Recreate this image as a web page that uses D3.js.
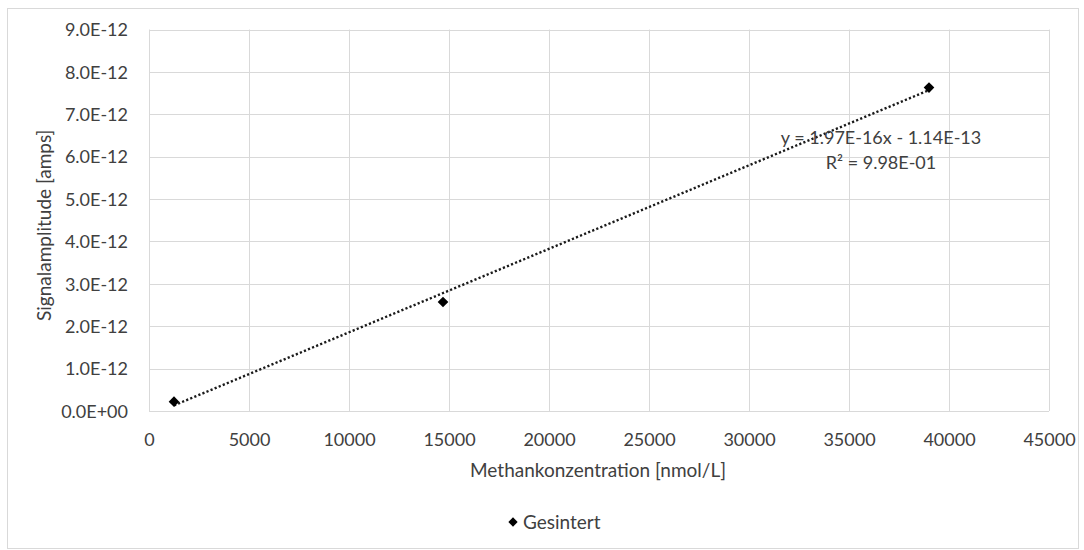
<!DOCTYPE html>
<html>
<head>
<meta charset="utf-8">
<script src="https://cdn.jsdelivr.net/npm/d3@7"></script>
<style>
  html, body { margin: 0; padding: 0; background: #fff; }
  svg text { font-family: Lato, "Open Sans", sans-serif; }
</style>
</head>
<body>
<svg id="chart" width="1084" height="550"></svg>
<script>
// Measured concentrations and signal amplitudes
const concentrations = [1250, 14700, 39000];      // nmol/L
const amplitudes = [0.22e-12, 2.57e-12, 7.63e-12]; // A
const seriesName = "Gesintert";

// Linear trend line as reported
const trendSlope = 1.97e-16;
const trendIntercept = -1.14e-13;
const trendLabel = "y = 1.97E-16x - 1.14E-13";
const r2Label = "R² = 9.98E-01";

const xTicks = [0, 5000, 10000, 15000, 20000, 25000, 30000, 35000, 40000, 45000];
const yTicks = [0, 1e-12, 2e-12, 3e-12, 4e-12, 5e-12, 6e-12, 7e-12, 8e-12, 9e-12];
const yTickLabels = ["0.0E+00", "1.0E-12", "2.0E-12", "3.0E-12", "4.0E-12",
                     "5.0E-12", "6.0E-12", "7.0E-12", "8.0E-12", "9.0E-12"];

const plot = { left: 149, right: 1049, top: 29.5, bottom: 411 };
const textColor = "#404040";

const svg = d3.select("#chart");

// outer chart border
svg.append("rect")
  .attr("x", 7.5).attr("y", 8.5)
  .attr("width", 1071).attr("height", 540)
  .attr("fill", "#fff").attr("stroke", "#d9d9d9").attr("stroke-width", 1);

const x = d3.scaleLinear().domain([0, 45000]).range([plot.left, plot.right]);
const y = d3.scaleLinear().domain([0, 9e-12]).range([plot.bottom, plot.top]);

// gridlines
const grid = svg.append("g");
grid.selectAll("line.v").data(xTicks).join("line")
  .attr("x1", d => Math.round(x(d)) + 0.5).attr("x2", d => Math.round(x(d)) + 0.5)
  .attr("y1", plot.top).attr("y2", plot.bottom)
  .attr("stroke", "#d9d9d9").attr("stroke-width", 1);
grid.selectAll("line.h").data(yTicks).join("line")
  .attr("x1", plot.left).attr("x2", plot.right)
  .attr("y1", d => Math.round(y(d)) + 0.5).attr("y2", d => Math.round(y(d)) + 0.5)
  .attr("stroke", "#d9d9d9").attr("stroke-width", 1);

// axes (labels only; grid supplies the lines)
const xAxis = d3.axisBottom(x).tickValues(xTicks).tickSize(0).tickPadding(0)
  .tickFormat(d3.format("d"));
const gx = svg.append("g").attr("transform", `translate(0,${plot.bottom})`).call(xAxis);
gx.select(".domain").remove();
gx.selectAll("text")
  .attr("dy", null).attr("y", 35)
  .attr("font-size", 18).attr("fill", textColor)
  .style("font-family", "Lato, sans-serif");

const yAxis = d3.axisLeft(y).tickValues(yTicks).tickSize(0).tickPadding(0)
  .tickFormat((d, i) => yTickLabels[i]);
const gy = svg.append("g").attr("transform", `translate(${plot.left},0)`).call(yAxis);
gy.select(".domain").remove();
gy.selectAll("text")
  .attr("x", -21).attr("dy", "0.35em")
  .attr("font-size", 18).attr("fill", textColor)
  .style("font-family", "Lato, sans-serif");

// axis titles
svg.append("text")
  .attr("x", (plot.left + plot.right) / 2 - 1).attr("y", 477)
  .attr("text-anchor", "middle").attr("font-size", 19).attr("fill", textColor)
  .text("Methankonzentration [nmol/L]");
svg.append("text")
  .attr("transform", `translate(51,${(plot.top + plot.bottom) / 2 + 5}) rotate(-90)`)
  .attr("text-anchor", "middle").attr("font-size", 19).attr("fill", textColor)
  .text("Signalamplitude [amps]");

// trend line across the data range
const xMin = d3.min(concentrations), xMax = d3.max(concentrations);
const trend = [xMin, xMax].map(v => [v, trendSlope * v + trendIntercept]);
svg.append("path")
  .datum(trend)
  .attr("d", d3.line().x(d => x(d[0])).y(d => y(d[1])))
  .attr("fill", "none").attr("stroke", "#1a1a1a").attr("stroke-width", 2.4)
  .attr("stroke-dasharray", "2.2,2.2");

// data markers
const diamond = d3.symbol().type(d3.symbolDiamond2).size(72);
svg.append("g").selectAll("path")
  .data(concentrations.map((c, i) => [c, amplitudes[i]]))
  .join("path")
  .attr("transform", d => `translate(${x(d[0])},${y(d[1])})`)
  .attr("d", diamond)
  .attr("fill", "#000");

// trend equation
svg.append("text")
  .attr("x", 881).attr("y", 144)
  .attr("text-anchor", "middle").attr("font-size", 18).attr("fill", textColor)
  .text(trendLabel);
svg.append("text")
  .attr("x", 881).attr("y", 169)
  .attr("text-anchor", "middle").attr("font-size", 18).attr("fill", textColor)
  .text(r2Label);

// legend
const lg = svg.append("g").attr("transform", "translate(513,522)");
lg.append("path").attr("d", d3.symbol().type(d3.symbolDiamond2).size(55)).attr("fill", "#000");
lg.append("text").attr("x", 10).attr("dy", "0.35em")
  .attr("font-size", 19).attr("fill", textColor).text(seriesName);
</script>
</body>
</html>
